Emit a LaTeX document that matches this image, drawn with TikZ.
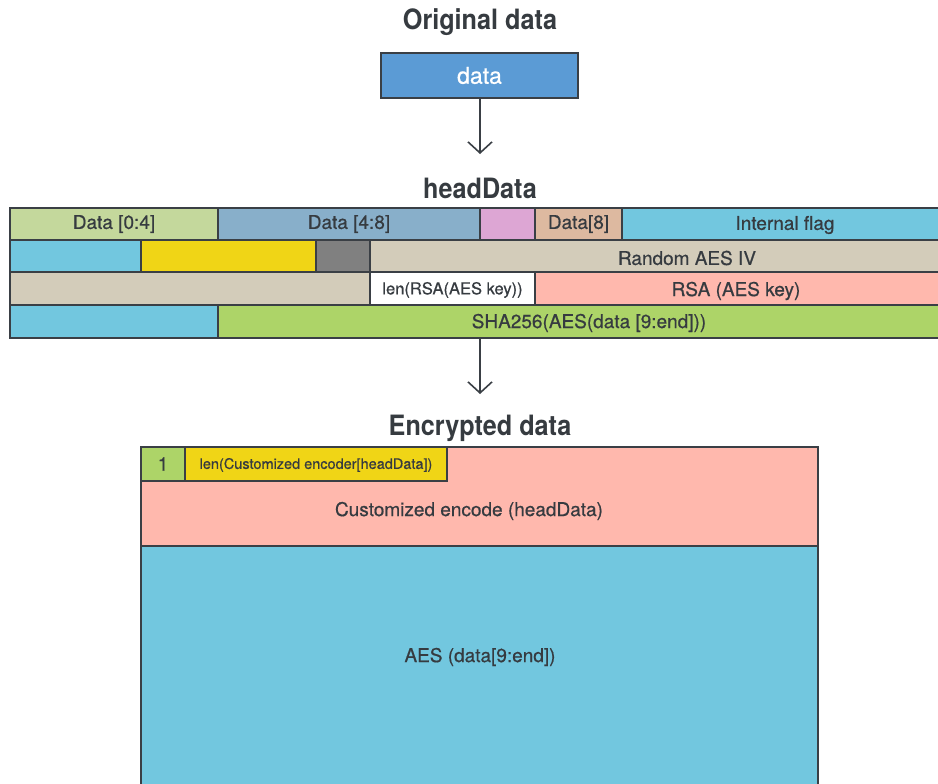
\documentclass[tikz,border=0pt]{standalone}
\usepackage{fontspec}
\setmainfont{TeX Gyre Heros}[UprightFeatures={FakeBold=0.6}, BoldFeatures={FakeStretch=0.9}]
\usetikzlibrary{arrows.meta}
\definecolor{edge}{HTML}{3A3F45}
\definecolor{ink}{HTML}{363B40}
\definecolor{cData}{HTML}{5B9BD5}
\definecolor{cSage}{HTML}{C4D89C}
\definecolor{cSteel}{HTML}{88AFCA}
\definecolor{cPink}{HTML}{DDA6D4}
\definecolor{cTan}{HTML}{DDB9A0}
\definecolor{cCyan}{HTML}{72C7DF}
\definecolor{cYellow}{HTML}{F0D516}
\definecolor{cGrey}{HTML}{808080}
\definecolor{cBeige}{HTML}{D3CCBA}
\definecolor{cSalmon}{HTML}{FFB8AD}
\definecolor{cGreen}{HTML}{ADD468}
\tikzset{
  cell/.style={draw=edge, line width=2pt, text=ink, inner sep=0pt,
    font=\fontsize{19}{22}\selectfont},
  heading/.style={text=ink, font=\fontsize{28}{32}\selectfont\bfseries},
  flow/.style={draw=edge, line width=1.6pt,
    -{Straight Barb[length=11pt,width=24pt,line width=1.6pt]}},
}
\newcommand{\cellbox}[6]{% name, x1, y1, x2, y2, fill
  \path[cell, fill=#6] (#2,#3) rectangle (#4,#5);
  \coordinate (#1) at ({(#2+#4)/2},{(#3+#5)/2});
}
\begin{document}
\begin{tikzpicture}[x=1pt,y=-1pt]
\useasboundingbox (0,0) rectangle (938,784);
\clip (0,0) rectangle (938,784);
\fill[white] (0,0) rectangle (938,784);

% original data
\node[heading] (t1) at (480,22) {Original data};
\cellbox{orig}{381}{53}{578}{98}{cData}
\node[text=white, font=\fontsize{23}{26}\selectfont] (origtxt) at (orig) {data};
\coordinate (origbot) at (480,98);
\coordinate (arr1) at (480,154);
\draw[flow] (origbot) -- (arr1);

% headData layout
\node[heading] (t2) at (480,188) {headData};
% row 1
\cellbox{r1a}{10}{208}{218}{240}{cSage}
\cellbox{r1b}{218}{208}{480}{240}{cSteel}
\cellbox{r1c}{480}{208}{535}{240}{cPink}
\cellbox{r1d}{535}{208}{622}{240}{cTan}
\cellbox{r1e}{622}{208}{945}{240}{cCyan}
\node[cell, draw=none] (l1a) at (r1a) {Data [0:4]};
\node[cell, draw=none] (l1b) at (r1b) {Data [4:8]};
\node[cell, draw=none] (l1d) at (r1d) {Data[8]};
\node[cell, draw=none] (l1e) at (785,225) {Internal flag};
% row 2
\cellbox{r2a}{10}{240}{141}{272}{cCyan}
\cellbox{r2b}{141}{240}{316}{272}{cYellow}
\cellbox{r2c}{316}{240}{370}{272}{cGrey}
\cellbox{r2d}{370}{240}{945}{272}{cBeige}
\node[cell, draw=none] (l2d) at (687,258) {Random AES IV};
% row 3
\cellbox{r3a}{10}{272}{370}{305}{cBeige}
\cellbox{r3b}{370}{272}{535}{305}{white}
\cellbox{r3c}{535}{272}{945}{305}{cSalmon}
\node[cell, draw=none, font=\fontsize{16.5}{19}\selectfont] (l3b) at (452.5,290) {len(RSA(AES key))};
\node[cell, draw=none] (l3c) at (736,291) {RSA (AES key)};
% row 4
\cellbox{r4a}{10}{305}{218}{338}{cCyan}
\cellbox{r4b}{218}{305}{945}{338}{cGreen}
\node[cell, draw=none] (l4b) at (589,323) {SHA256(AES(data [9:end]))};
\coordinate (headbot) at (480,338);
\coordinate (arr2) at (480,394);
\draw[flow] (headbot) -- (arr2);

% encrypted data
\node[heading] (t3) at (480,428) {Encrypted data};
\cellbox{enc}{141}{447}{818}{546}{cSalmon}
\cellbox{aes}{141}{546}{818}{800}{cCyan}
\cellbox{one}{141}{447}{185}{481}{cGreen}
\cellbox{len}{185}{447}{447}{481}{cYellow}
\node[cell, draw=none] (lone) at (one) {1};
\node[cell, draw=none, font=\fontsize{14.5}{17}\selectfont] (llen) at (316,465) {len(Customized encoder[headData])};
\node[cell, draw=none] (lenc) at (469,511) {Customized encode (headData)};
\node[cell, draw=none] (laes) at (480,657) {AES (data[9:end])};
\end{tikzpicture}
\end{document}
